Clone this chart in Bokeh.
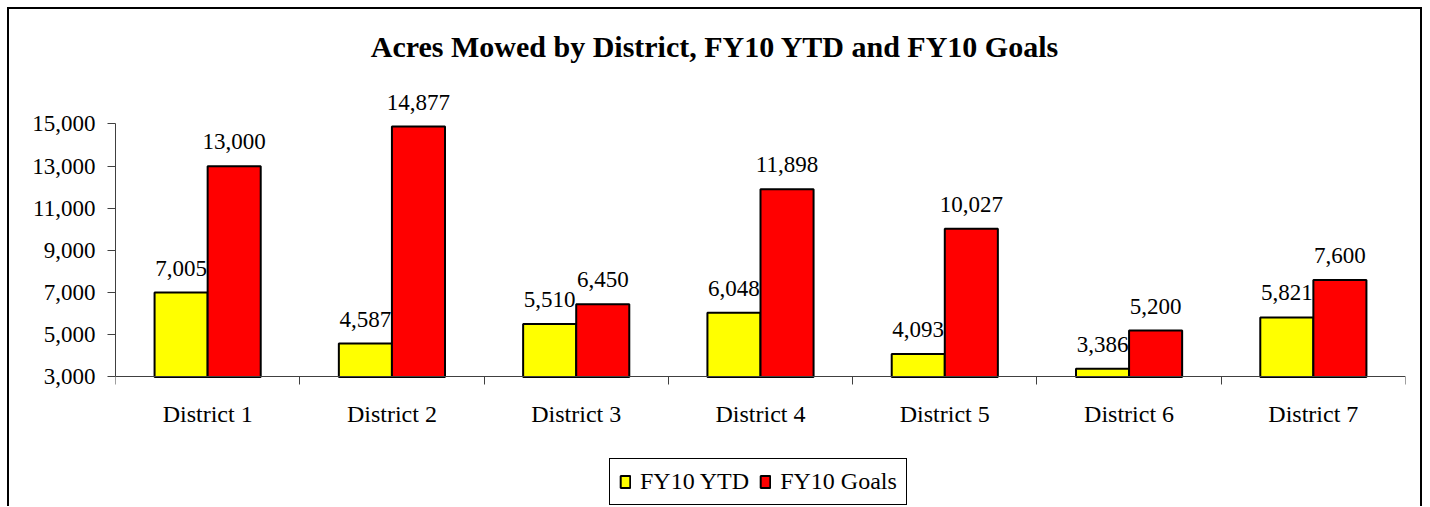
from bokeh.plotting import figure
from bokeh.models import (ColumnDataSource, Range1d, FixedTicker, NumeralTickFormatter,
                          LabelSet, Label, Legend, LegendItem)
from bokeh.transform import dodge
from bokeh.embed import file_html
from bokeh.resources import INLINE

# ---- data ----
districts = ["District 1", "District 2", "District 3", "District 4",
             "District 5", "District 6", "District 7"]
fy10_ytd = [7005, 4587, 5510, 6048, 4093, 3386, 5821]
fy10_goals = [13000, 14877, 6450, 11898, 10027, 5200, 7600]
series_names = ["FY10 YTD", "FY10 Goals"]
y_ticks = [3000, 5000, 7000, 9000, 11000, 13000, 15000]
title_text = "Acres Mowed by District, FY10 YTD and FY10 Goals"

SERIF = "Liberation Serif"
AXIS_COLOR = "#404040"
BAR_W = 0.288

# ---- layout (pixels) ----
BORDER = 2
FIG_W = 1415           # includes the 2px side borders
FIG_H = 499            # includes the 2px top border
CANVAS_H = FIG_H - BORDER
ABOVE_PX = 366         # from canvas top to the x axis (value 3,000)
BELOW_PX = CANVAS_H - ABOVE_PX
AXIS_SPAN_PX = 252     # pixel height of the 3,000..15,000 axis
per_px = (y_ticks[-1] - y_ticks[0]) / AXIS_SPAN_PX
y_top = y_ticks[0] + ABOVE_PX * per_px
y_bottom = y_ticks[0] - BELOW_PX * per_px

n = len(districts)
centers = [i + 0.5 for i in range(n)]  # category slot centres on a 0..n axis

source = ColumnDataSource(dict(
    pos=centers,
    district=districts,
    ytd=fy10_ytd,
    goals=fy10_goals,
    ytd_label=[f"{v:,}" for v in fy10_ytd],
    goals_label=[f"{v:,}" for v in fy10_goals],
))

p = figure(x_range=Range1d(0, n), y_range=Range1d(y_bottom, y_top),
           width=FIG_W, height=FIG_H, output_backend="svg", toolbar_location=None,
           title=None,
           min_border_left=106, min_border_right=19, min_border_top=0, min_border_bottom=0)
p.styles = {"margin-left": "7px", "margin-top": "7px",
            "border-top": f"{BORDER}px solid black", "border-left": f"{BORDER}px solid black",
            "border-right": f"{BORDER}px solid black"}
p.outline_line_color = None
p.grid.visible = False
p.background_fill_color = "white"
p.border_fill_color = "white"

# y axis
yax = p.yaxis[0]
yax.bounds = (y_ticks[0], y_ticks[-1])
yax.ticker = FixedTicker(ticks=y_ticks)
yax.formatter = NumeralTickFormatter(format="0,0")
yax.major_tick_in = 0
yax.major_tick_out = 8
yax.minor_tick_line_color = None
yax.axis_line_color = AXIS_COLOR
yax.major_tick_line_color = AXIS_COLOR
yax.major_label_standoff = 12
yax.major_label_text_font = SERIF
yax.major_label_text_font_size = "23px"
yax.major_label_text_color = "black"

# x axis at value 3,000 (category labels at centres, ticks at category boundaries)
xax = p.xaxis[0]
xax.fixed_location = y_ticks[0]
xax.ticker = FixedTicker(ticks=centers, minor_ticks=list(range(n + 1)))
xax.major_label_overrides = {c: d for c, d in zip(centers, districts)}
xax.major_tick_in = 0
xax.major_tick_out = 0
xax.major_tick_line_color = None
xax.minor_tick_in = 0
xax.minor_tick_out = 8
xax.minor_tick_line_color = AXIS_COLOR
xax.axis_line_color = AXIS_COLOR
xax.major_label_standoff = 16
xax.major_label_text_font = SERIF
xax.major_label_text_font_size = "24px"
xax.major_label_text_color = "black"

# bars
r_ytd = p.vbar(x=dodge("pos", -BAR_W / 2), top="ytd", bottom=y_ticks[0], width=BAR_W,
               source=source, fill_color="#FFFF00", line_color="black", line_width=2)
r_goals = p.vbar(x=dodge("pos", BAR_W / 2), top="goals", bottom=y_ticks[0], width=BAR_W,
                 source=source, fill_color="#FF0000", line_color="black", line_width=2)

# value labels
for col, lab, off in (("ytd", "ytd_label", -BAR_W / 2), ("goals", "goals_label", BAR_W / 2)):
    p.add_layout(LabelSet(x=dodge("pos", off), y=col, text=lab,
                          source=source, text_align="center", text_baseline="alphabetic",
                          y_offset=17, text_font=SERIF, text_font_size="23px",
                          text_color="black"))

# title (screen units from the frame's bottom-left corner)
p.add_layout(Label(x=599.5, y=CANVAS_H - 35, x_units="screen", y_units="screen",
                   text=title_text, text_align="center", text_baseline="alphabetic",
                   text_font=SERIF, text_font_style="bold", text_font_size="30px",
                   text_color="black"))

# legend
legend = Legend(items=[LegendItem(label=series_names[0], renderers=[r_ytd]),
                       LegendItem(label=series_names[1], renderers=[r_goals])],
                orientation="horizontal", location=(494, 3),
                border_line_color="black", border_line_width=1, border_line_alpha=1,
                background_fill_color="white", background_fill_alpha=1,
                padding=9, spacing=10, label_standoff=9, glyph_width=12, glyph_height=15,
                margin=0, label_text_font=SERIF, label_text_font_size="24px",
                label_text_color="black")
p.add_layout(legend)

open("out.html", "w").write(file_html(p, INLINE))
